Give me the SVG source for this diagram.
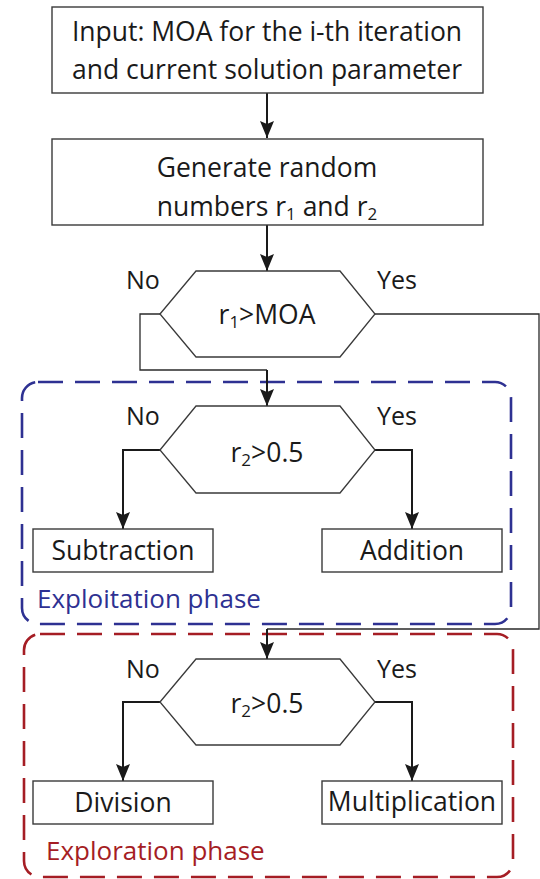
<svg xmlns="http://www.w3.org/2000/svg" width="540" height="879" viewBox="0 0 540 879">
<defs>
<marker id="ah" viewBox="0 0 17 14" refX="17" refY="7" markerWidth="17" markerHeight="14" markerUnits="userSpaceOnUse" orient="auto">
<path d="M0,0 L17,7 L0,14 L3,7 Z" fill="#1a1a1a"/>
</marker>
<style>
.box{fill:#fff;stroke:#3a3a3a;stroke-width:1.4}
.hex{fill:#fff;stroke:#3a3a3a;stroke-width:1.3}
.t{font-family:"Open Sans","Liberation Sans",sans-serif;font-size:26.5px;fill:#1a1a1a;text-anchor:middle}
.lbl{font-family:"Open Sans","Liberation Sans",sans-serif;font-size:25px;fill:#1a1a1a}
.arr{fill:none;stroke:#1a1a1a;stroke-width:2;marker-end:url(#ah)}
.thin{fill:none;stroke:#2a2a2a;stroke-width:1.3}
.dash{fill:none;stroke-width:2.6;stroke-dasharray:25 12}
.ph{font-family:"Open Sans","Liberation Sans",sans-serif;font-size:26px}
</style>
</defs>
<g id="exploitation">
<rect class="dash" x="22" y="382" width="489" height="242" rx="16" stroke="#2e3192"/>
<text class="ph" x="37" y="608" fill="#2e3192">Exploitation phase</text>
</g>
<g id="exploration">
<rect class="dash" x="24" y="634" width="489" height="243" rx="16" stroke="#a51d24"/>
<text class="ph" x="46" y="860" fill="#a51d24">Exploration phase</text>
</g>
<g id="connectors">
<path class="arr" d="M267,93 V138"/>
<path class="arr" d="M267,225 V271"/>
<path class="thin" d="M160,314 H140 V370 H267"/>
<path class="arr" d="M267,370 V406"/>
<path class="thin" d="M375,314 H539 V629 H267"/>
<path class="arr" d="M267,629 V659"/>
<path class="arr" d="M160,450 H123 V529"/>
<path class="arr" d="M375,450 H412 V529"/>
<path class="arr" d="M160,702 H123 V781"/>
<path class="arr" d="M375,702 H412 V781"/>
</g>
<g id="input">
<rect class="box" x="52" y="7" width="431" height="86"/>
<text class="t" x="267" y="41">Input: MOA for the i-th iteration</text>
<text class="t" x="267" y="79">and current solution parameter</text>
</g>
<g id="generate">
<rect class="box" x="52" y="139" width="431" height="86"/>
<text class="t" x="267" y="177">Generate random</text>
<text class="t" x="267" y="216">numbers r<tspan font-size="17" dy="4">1</tspan><tspan dy="-4"> and r</tspan><tspan font-size="17" dy="4">2</tspan></text>
</g>
<g id="decision1">
<polygon class="hex" points="160,314 196,271 340,271 375,314 340,357 196,357"/>
<text class="t" x="267" y="324">r<tspan font-size="17" dy="4">1</tspan><tspan dy="-4">&gt;MOA</tspan></text>
<text class="lbl" x="126" y="289">No</text>
<text class="lbl" x="377" y="289">Yes</text>
</g>
<g id="decision2">
<polygon class="hex" points="160,450 196,406 340,406 375,450 340,493 196,493"/>
<text class="t" x="267" y="462">r<tspan font-size="17" dy="4">2</tspan><tspan dy="-4">&gt;0.5</tspan></text>
<text class="lbl" x="126" y="425">No</text>
<text class="lbl" x="377" y="425">Yes</text>
</g>
<g id="subtraction">
<rect class="box" x="33" y="529" width="180" height="43"/>
<text class="t" x="123" y="560">Subtraction</text>
</g>
<g id="addition">
<rect class="box" x="322" y="529" width="180" height="43"/>
<text class="t" x="412" y="560">Addition</text>
</g>
<g id="decision3">
<polygon class="hex" points="160,702 196,659 340,659 375,702 340,745 196,745"/>
<text class="t" x="267" y="713">r<tspan font-size="17" dy="4">2</tspan><tspan dy="-4">&gt;0.5</tspan></text>
<text class="lbl" x="126" y="678">No</text>
<text class="lbl" x="377" y="678">Yes</text>
</g>
<g id="division">
<rect class="box" x="33" y="781" width="180" height="43"/>
<text class="t" x="123" y="812">Division</text>
</g>
<g id="multiplication">
<rect class="box" x="322" y="781" width="180" height="43"/>
<text class="t" x="412" y="811">Multiplication</text>
</g>
</svg>
